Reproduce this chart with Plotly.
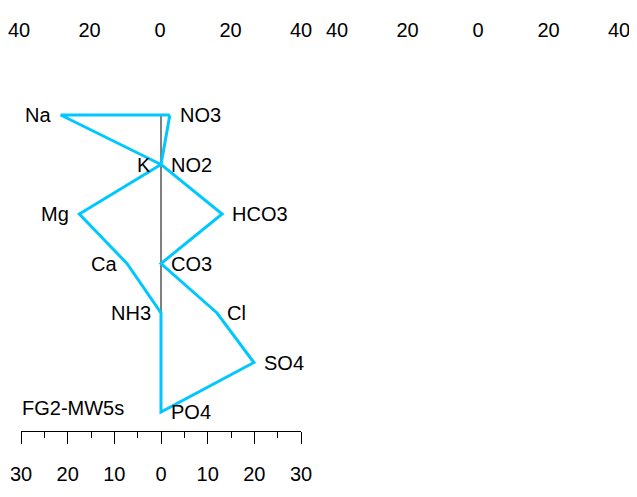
import plotly.graph_objects as go

# ---- data ----
sample_name = "FG2-MW5s"
cation_names = ["Na", "K", "Mg", "Ca", "NH3"]
cation_values = [21.5, 0.0, 17.5, 7.3, 0.0]
cation_rows = [0, 1, 2, 3, 4]
anion_names = ["NO3", "NO2", "HCO3", "CO3", "Cl", "SO4", "PO4"]
anion_values = [1.9, 0.0, 13.1, 0.0, 12.0, 19.9, 0.0]
anion_rows = [0, 1, 2, 3, 4, 5, 6]

bottom_tickvals = [-30, -20, -10, 0, 10, 20, 30]
bottom_ticktext = ["30", "20", "10", "0", "10", "20", "30"]
top_tickvals = [-40, -20, 0, 20, 40]
top_ticktext = ["40", "20", "0", "20", "40"]

# page body has an 8px margin; figure sized to fit the 637x497 window
OFF = 8
W, H = 637 - OFF, 497 - OFF
FONT = "Liberation Sans, Arial, sans-serif"
FS = 20
BLUE = "#00C8FF"

# polygon: anions top->bottom, then cations bottom->top, closed
poly_x = anion_values + [-v for v in cation_values[::-1]] + [anion_values[0]]
poly_y = anion_rows + cation_rows[::-1] + [anion_rows[0]]

fig = go.Figure()
fig.add_trace(go.Scatter(x=[0, 0], y=[anion_rows[0], anion_rows[-1]], mode="lines",
                         line=dict(color="black", width=1), hoverinfo="skip", showlegend=False))
fig.add_trace(go.Scatter(x=poly_x, y=poly_y, mode="lines",
                         line=dict(color=BLUE, width=3), hoverinfo="skip", showlegend=False))
# invisible traces to activate helper axes
fig.add_trace(go.Scatter(x=[-30, 30], y=[0, 0], xaxis="x2", yaxis="y2", mode="markers",
                         marker=dict(opacity=0), hoverinfo="skip", showlegend=False))
fig.add_trace(go.Scatter(x=[-40, 40], y=[0, 0], xaxis="x3", yaxis="y3", mode="markers",
                         marker=dict(opacity=0), hoverinfo="skip", showlegend=False))
fig.add_trace(go.Scatter(x=[-40, 40], y=[0, 0], xaxis="x4", yaxis="y3", mode="markers",
                         marker=dict(opacity=0), hoverinfo="skip", showlegend=False))

annotations = []
for n, v, r in zip(cation_names, cation_values, cation_rows):
    annotations.append(dict(x=-v, y=r, xref="x", yref="y", text=n, showarrow=False,
                            xanchor="right", yanchor="middle", xshift=-8,
                            font=dict(family=FONT, size=FS, color="black")))
for n, v, r in zip(anion_names, anion_values, anion_rows):
    annotations.append(dict(x=v, y=r, xref="x", yref="y", text=n, showarrow=False,
                            xanchor="left", yanchor="middle", xshift=8,
                            font=dict(family=FONT, size=FS, color="black")))
annotations.append(dict(x=bottom_tickvals[0], y=anion_rows[-1], xref="x", yref="y",
                        text=sample_name, showarrow=False, xanchor="left", yanchor="middle",
                        yshift=4, xshift=-1, font=dict(family=FONT, size=FS, color="black")))

# pixel geometry (paper coords = screen - OFF)
px0 = 161.0 - OFF
scale = 140.0 / 30.0
x_range = [-px0 / scale, (W - px0) / scale]
row_px0 = 115.0 - OFF
row_step = 49.5
y_range = [(H - row_px0) / row_step, -row_px0 / row_step]

bot_pos = 1 - (430.5 - OFF) / H
top_pos = 1 - 34.0 / H

common = dict(automargin=False, fixedrange=True, ticklabeloverflow="allow")

fig.update_layout(
    template="none",
    width=W, height=H, autosize=False,
    margin=dict(l=0, r=0, t=0, b=0, pad=0, autoexpand=False),
    paper_bgcolor="white", plot_bgcolor="rgba(0,0,0,0)",
    font=dict(family=FONT, size=FS, color="black"),
    showlegend=False,
    annotations=annotations,
    xaxis=dict(range=x_range, domain=[0, 1], visible=False, **common),
    yaxis=dict(range=y_range, domain=[0, 1], visible=False, **common),
    yaxis2=dict(domain=[bot_pos, bot_pos + 0.01], anchor="x2", visible=False,
                range=[-1, 1], **common),
    yaxis3=dict(domain=[top_pos - 0.01, top_pos], anchor="x3", visible=False,
                range=[-1, 1], **common),
    xaxis2=dict(range=[-30, 30], domain=[(21 - OFF) / W, (301 - OFF) / W], anchor="y2",
                side="bottom",
                tickmode="array", tickvals=bottom_tickvals, ticktext=bottom_ticktext,
                ticks="outside", ticklen=12, tickwidth=1, tickcolor="black",
                showline=True, linecolor="black", linewidth=1,
                showgrid=False, zeroline=False, ticklabelstandoff=13,
                minor=dict(dtick=5, tick0=0, ticks="outside", ticklen=6,
                           tickwidth=1, tickcolor="black", showgrid=False),
                tickfont=dict(family=FONT, size=FS, color="black"), **common),
    xaxis3=dict(range=[-40, 40], domain=[(19 - OFF) / W, (301 - OFF) / W], anchor="y3",
                side="top",
                tickmode="array", tickvals=top_tickvals, ticktext=top_ticktext,
                ticks="", showline=False, showgrid=False, zeroline=False,
                tickfont=dict(family=FONT, size=FS, color="black"), **common),
    xaxis4=dict(range=[-40, 40], domain=[(337 - OFF) / W, (619 - OFF) / W], anchor="y3",
                side="top",
                tickmode="array", tickvals=top_tickvals, ticktext=top_ticktext,
                ticks="", showline=False, showgrid=False, zeroline=False,
                tickfont=dict(family=FONT, size=FS, color="black"), **common),
)

fig.write_html("out.html")
